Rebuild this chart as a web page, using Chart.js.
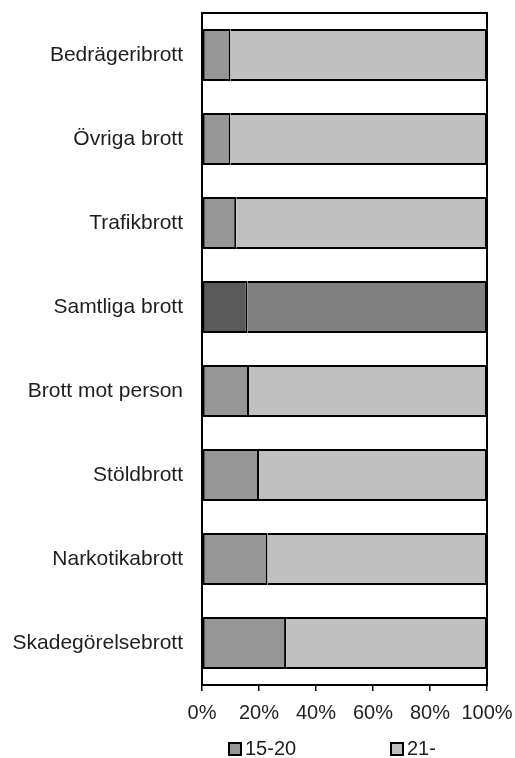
<!DOCTYPE html>
<html>
<head>
<meta charset="utf-8">
<script src="https://cdn.jsdelivr.net/npm/chart.js@4"></script>
<style>
  html, body { margin: 0; padding: 0; background: #fff; }
  #wrap { width: 515px; height: 758px; }
</style>
</head>
<body>
<div id="wrap"><canvas id="chart"></canvas></div>
<script>
// ---- data ----
const categories = ["Bedrägeribrott", "Övriga brott", "Trafikbrott", "Samtliga brott",
                    "Brott mot person", "Stöldbrott", "Narkotikabrott", "Skadegörelsebrott"];
const seriesNames = ["15-20", "21-"];
const young = [10, 10, 12, 16, 16.5, 20, 23, 29.5];   // 15-20
const older = [90, 90, 88, 84, 83.5, 80, 77, 70.5];   // 21-
const xTicks = [0, 20, 40, 60, 80, 100];

const FONT = "'Liberation Sans', Arial, sans-serif";
const TEXT = "#1e1e1e";

// the "Samtliga brott" bar is drawn darker
const highlight = "Samtliga brott";
const youngColors = categories.map(c => c === highlight ? "#5A5A5A" : "#969696");
const olderColors = categories.map(c => c === highlight ? "#808080" : "#C0C0C0");

// frame round the plot area (top + right sides)
const frame = {
  id: "frame",
  afterDatasetsDraw(chart) {
    const { ctx, chartArea: a } = chart;
    ctx.save();
    ctx.strokeStyle = "#000";
    ctx.lineWidth = 2;
    ctx.strokeRect(a.left, a.top, a.right - a.left, a.bottom - a.top);
    ctx.restore();
  }
};

// legend drawn under the plot, like the original
const legendBoxes = {
  id: "legendBoxes",
  afterDraw(chart) {
    const { ctx } = chart;
    const xs = [229, 391];
    const y = 749;
    ctx.save();
    ctx.font = "20px " + FONT;
    ctx.textBaseline = "middle";
    chart.data.datasets.forEach((ds, i) => {
      ctx.fillStyle = i === 0 ? "#969696" : "#C0C0C0";
      ctx.fillRect(xs[i], y - 6, 12, 12);
      ctx.strokeStyle = "#000";
      ctx.lineWidth = 2;
      ctx.strokeRect(xs[i], y - 6, 12, 12);
      ctx.fillStyle = TEXT;
      ctx.fillText(ds.label, xs[i] + 16, y);
    });
    ctx.restore();
  }
};

new Chart(document.getElementById("chart"), {
  type: "bar",
  data: {
    labels: categories,
    datasets: [
      { label: seriesNames[0], data: young, backgroundColor: youngColors,
        borderColor: "#000", borderWidth: { left: 2, top: 2, bottom: 2, right: 2 }, borderSkipped: false },
      { label: seriesNames[1], data: older, backgroundColor: olderColors,
        borderColor: "#000", borderWidth: { left: 0, top: 2, bottom: 2, right: 2 }, borderSkipped: false }
    ]
  },
  options: {
    indexAxis: "y",
    responsive: true,
    maintainAspectRatio: false,
    animation: false,
    layout: { padding: { top: 13, right: 28, left: 0, bottom: 0 } },
    datasets: { bar: { categoryPercentage: 1, barThickness: 52, inflateAmount: 0 } },
    plugins: { legend: { display: false }, tooltip: { enabled: false } },
    scales: {
      x: {
        stacked: true, min: 0, max: 100,
        afterBuildTicks: s => { s.ticks = xTicks.map(v => ({ value: v })); },
        afterFit: s => { s.height = 73; s.paddingLeft = 0; s.paddingRight = 0; },
        ticks: { callback: v => v + "%", color: TEXT, font: { family: FONT, size: 20 }, padding: 10, maxRotation: 0 },
        grid: { drawOnChartArea: false, drawTicks: true, tickLength: 6, color: "#000", lineWidth: 1.5 },
        border: { color: "#000", width: 2 }
      },
      y: {
        stacked: true,
        afterFit: s => { s.width = 202; s.paddingTop = 0; s.paddingBottom = 0; },
        ticks: { color: TEXT, font: { family: FONT, size: 21 }, padding: 19 },
        grid: { display: false, drawTicks: false },
        border: { color: "#000", width: 2 }
      }
    }
  },
  plugins: [frame, legendBoxes]
});
</script>
</body>
</html>
